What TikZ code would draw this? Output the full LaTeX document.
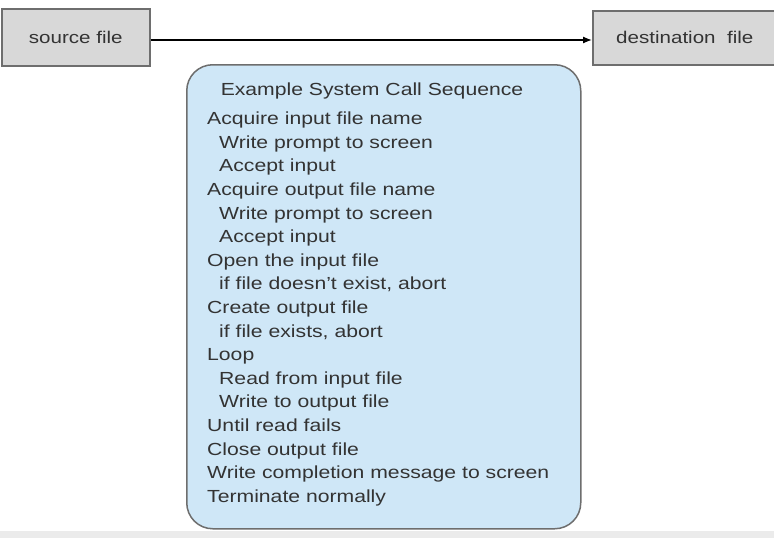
\documentclass[tikz,border=0pt]{standalone}
\usepackage{fontspec}
\setmainfont[FakeStretch=1.21]{Liberation Sans}
\usetikzlibrary{arrows.meta}
\definecolor{boxgray}{HTML}{D8D8D8}
\definecolor{edgegray}{HTML}{6E6E6E}
\definecolor{seqblue}{HTML}{CFE7F7}
\definecolor{txt}{HTML}{333333}
\begin{document}
\begin{tikzpicture}[x=1pt,y=-1pt,
  filebox/.style={draw=edgegray,line width=1.6pt,fill=boxgray,inner sep=0pt,
    text=txt,font=\fontsize{17}{20}\selectfont,anchor=north west},
  seqline/.style={anchor=base west,inner sep=0pt,text=txt,font=\fontsize{17.5}{20}\selectfont}]
\useasboundingbox (0,0) rectangle (774,538);
\fill[white] (0,0) rectangle (774,538);
\fill[black!8] (0,531) rectangle (774,538);
\node[filebox,minimum width=148pt,minimum height=57pt] (src) at (1,8) {source file};
\node[filebox,minimum width=184pt,minimum height=54pt] (dst) at (592,10) {destination\ \ file};
\draw[line width=1.3pt,-{Latex[length=9pt,width=7pt]}] (src.east |- 0,40) -- (dst.west |- 0,40);
\node[draw=edgegray,line width=1.5pt,fill=seqblue,rounded corners=26pt,
  minimum width=394pt,minimum height=464pt,anchor=north west,inner sep=0pt] (seq) at (186,64) {};
\node[seqline,anchor=base] (t) at (372,95) {Example System Call Sequence};
\foreach \txtline/\ind [count=\i] in {
  {Acquire input file name}/0,
  {Write prompt to screen}/1,
  {Accept input}/1,
  {Acquire output file name}/0,
  {Write prompt to screen}/1,
  {Accept input}/1,
  {Open the input file}/0,
  {if file doesn't exist, abort}/1,
  {Create output file}/0,
  {if file exists, abort}/1,
  {Loop}/0,
  {Read from input file}/1,
  {Write to output file}/1,
  {Until read fails}/0,
  {Close output file}/0,
  {Write completion message to screen}/0,
  {Terminate normally}/0}
  \node[seqline] (l\i) at ({207+12*\ind},{101+23.6*\i}) {\txtline};
\end{tikzpicture}
\end{document}
